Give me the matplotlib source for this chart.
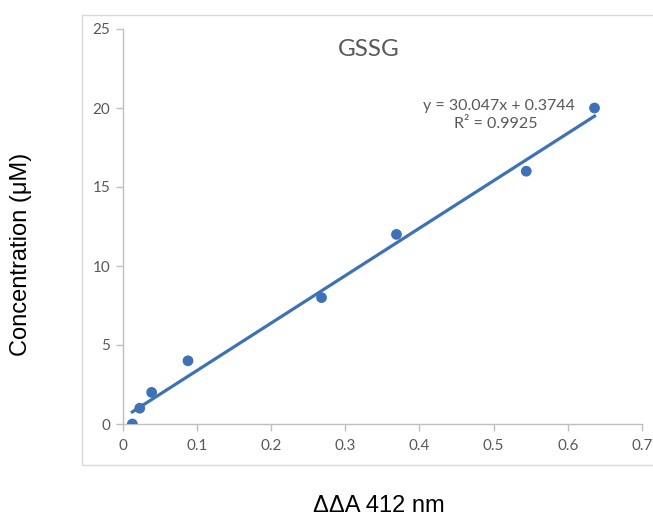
import matplotlib
matplotlib.use("Agg")
import matplotlib.pyplot as plt
import numpy as np
from matplotlib.patches import Rectangle

# Data
absorbance = [0.013, 0.023, 0.039, 0.088, 0.268, 0.369, 0.544, 0.636]
concentration = [0, 1, 2, 4, 8, 12, 16, 20]
slope = 30.047
intercept = 0.3744
r_squared = 0.9925
x_ticks = [0, 0.1, 0.2, 0.3, 0.4, 0.5, 0.6, 0.7]
x_tick_labels = ["0", "0.1", "0.2", "0.3", "0.4", "0.5", "0.6", "0.7"]
y_ticks = [0, 5, 10, 15, 20, 25]
y_tick_labels = ["0", "5", "10", "15", "20", "25"]

blue = "#3d72b8"
gray_text = "#595959"
axis_gray = "#bfbfbf"

fig = plt.figure(figsize=(6.53, 5.21), dpi=100)
W, H = 653, 521

# chart-area border
fig.patches.append(Rectangle((82 / W, 1 - 465 / H), (W + 10 - 82) / W, (465 - 15) / H,
                             transform=fig.transFigure, fill=False,
                             edgecolor="#d9d9d9", linewidth=1.0))

ax = fig.add_axes([122.7 / W, 1 - 424 / H, (642 - 122.7) / W, (424 - 29) / H])
ax.set_xlim(0, 0.7)
ax.set_ylim(0, 25)

ax.scatter(absorbance, concentration, s=60, color=blue, zorder=3, edgecolors="none")
xl = np.array([min(absorbance), max(absorbance)])
ax.plot(xl, slope * xl + intercept, color=blue, linewidth=2.3, zorder=2)

for s in ["top", "right"]:
    ax.spines[s].set_visible(False)
for s in ["left", "bottom"]:
    ax.spines[s].set_color(axis_gray)
    ax.spines[s].set_linewidth(1.0)

ax.set_xticks(x_ticks)
ax.set_xticklabels(x_tick_labels)
ax.set_yticks(y_ticks)
ax.set_yticklabels(y_tick_labels)
ax.tick_params(axis="both", colors=axis_gray, labelcolor=gray_text, length=5,
               width=1.0, labelsize=11)
for lab in ax.get_xticklabels() + ax.get_yticklabels():
    lab.set_family("Lato")
ax.tick_params(axis="x", pad=6)
ax.tick_params(axis="y", pad=4)

fig.text(369 / W, 1 - 49 / H, "GSSG", ha="center", va="center", fontsize=17.5,
         color=gray_text, family="Lato")
fig.text(499 / W, 1 - 106 / H, f"y = {slope}x + {intercept}", ha="center", va="center",
         fontsize=11.5, color=gray_text, family="Lato")
fig.text(496 / W, 1 - 124 / H, f"R² = {r_squared}", ha="center", va="center",
         fontsize=11.5, color=gray_text, family="Lato")

fig.text(21 / W, 1 - 254 / H, "Concentration (μM)", rotation=90, ha="center", va="center",
         fontsize=17, color="black", family="Liberation Sans")
fig.text(379 / W, 1 - 506 / H, "ΔΔA 412 nm", ha="center", va="center",
         fontsize=17, color="black", family="Liberation Sans")

fig.savefig("out.png", dpi=100)
